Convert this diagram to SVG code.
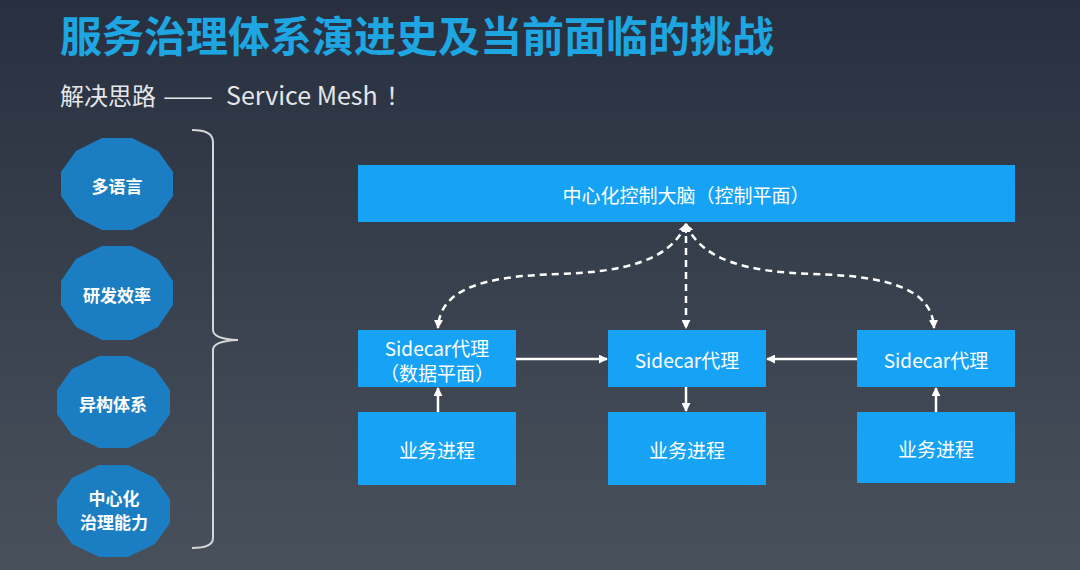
<svg xmlns="http://www.w3.org/2000/svg" width="1080" height="570" viewBox="0 0 1080 570">
  <defs>
    <linearGradient id="bg" x1="0" y1="0" x2="0" y2="1">
      <stop offset="0" stop-color="#283040"/>
      <stop offset="1" stop-color="#48515b"/>
    </linearGradient>
    <marker id="ah" viewBox="0 0 10 10" refX="9" refY="5" markerWidth="9" markerHeight="9" markerUnits="userSpaceOnUse" orient="auto-start-reverse">
      <path d="M0,0 L10,5 L0,10 Z" fill="#ffffff"/>
    </marker>
    <style>
      .cjk { font-family: "Noto Sans CJK SC", "Noto Sans", sans-serif; }
      .box { fill: #16a3f6; }
      .oct { fill: #1c7ec2; }
      .bt { fill: #ffffff; font-size: 19px; text-anchor: middle; dominant-baseline: central; }
      .ot { fill: #ffffff; font-size: 17px; font-weight: 700; text-anchor: middle; dominant-baseline: central; }
      .solid { stroke: #ffffff; stroke-width: 2.5; fill: none; }
      .dash { stroke: #ffffff; stroke-width: 2.5; fill: none; stroke-dasharray: 7 5; }
    </style>
  </defs>
  <rect width="1080" height="570" fill="url(#bg)"/>

  <text class="cjk" x="60" y="52" font-size="42" font-weight="700" fill="#1ea6e2">服务治理体系演进史及当前面临的挑战</text>
  <text class="cjk" y="105" font-size="24" fill="#e4e6e8"><tspan x="60">解决思路</tspan><tspan x="163" textLength="50" lengthAdjust="spacingAndGlyphs">——</tspan><tspan x="226" font-size="25">Service Mesh</tspan><tspan x="386">！</tspan></text>

  <g id="ellipse-multilang">
    <polygon class="oct" points="173,196 158,217 132,230 102,230 76,217 61,196 61,172 76,151 102,138 132,138 158,151 173,172"/>
    <text class="cjk ot" x="117" y="185">多语言</text>
  </g>
  <g id="ellipse-efficiency">
    <polygon class="oct" points="173,305 158,327 132,340 102,340 76,327 61,305 61,281 76,259 102,246 132,246 158,259 173,281"/>
    <text class="cjk ot" x="117" y="294">研发效率</text>
  </g>
  <g id="ellipse-hetero">
    <polygon class="oct" points="170,414 155,435 128,448 99,448 72,435 57,414 57,390 72,369 99,356 128,356 155,369 170,390"/>
    <text class="cjk ot" x="113" y="403">异构体系</text>
  </g>
  <g id="ellipse-governance">
    <polygon class="oct" points="170,523 155,544 128,557 99,557 72,544 57,523 57,499 72,478 99,465 128,465 155,478 170,499"/>
    <text class="cjk ot" x="114" y="497">中心化</text>
    <text class="cjk ot" x="114" y="521">治理能力</text>
  </g>

  <g id="brace">
    <path d="M192,130 Q213,130 213,142 L213,330 Q213,339 238,340 Q213,341 213,350 L213,538 Q213,548 192,548" fill="none" stroke="#d4d6d8" stroke-width="2"/>
  </g>

  <g id="control-plane">
    <rect class="box" x="358" y="165" width="657" height="57"/>
    <text class="cjk bt" x="686" y="194">中心化控制大脑（控制平面）</text>
  </g>
  <g id="sidecar-left">
    <rect class="box" x="358" y="330" width="158" height="57"/>
    <text class="cjk bt" x="437" y="347">Sidecar代理</text>
    <text class="cjk bt" x="437" y="372">（数据平面）</text>
  </g>
  <g id="sidecar-mid">
    <rect class="box" x="608" y="330" width="158" height="57"/>
    <text class="cjk bt" x="687" y="359">Sidecar代理</text>
  </g>
  <g id="sidecar-right">
    <rect class="box" x="857" y="330" width="158" height="57"/>
    <text class="cjk bt" x="936" y="359">Sidecar代理</text>
  </g>
  <g id="biz-left">
    <rect class="box" x="358" y="412" width="158" height="73"/>
    <text class="cjk bt" x="437" y="449" font-size="20">业务进程</text>
  </g>
  <g id="biz-mid">
    <rect class="box" x="608" y="412" width="158" height="73"/>
    <text class="cjk bt" x="687" y="449" font-size="20">业务进程</text>
  </g>
  <g id="biz-right">
    <rect class="box" x="857" y="412" width="158" height="71"/>
    <text class="cjk bt" x="936" y="448" font-size="20">业务进程</text>
  </g>

  <g id="connectors">
    <path class="dash" d="M686,224 C670,262 620,272 560,274 C480,276 440,290 438,328" marker-start="url(#ah)" marker-end="url(#ah)"/>
    <path class="dash" d="M686,224 C702,262 752,272 812,274 C892,276 932,290 934,328" marker-start="url(#ah)" marker-end="url(#ah)"/>
    <path class="dash" d="M686,224 L686,328" marker-start="url(#ah)" marker-end="url(#ah)"/>
    <path class="solid" d="M516,359 L607,359" marker-end="url(#ah)"/>
    <path class="solid" d="M857,359 L767,359" marker-end="url(#ah)"/>
    <path class="solid" d="M438,412 L438,388" marker-end="url(#ah)"/>
    <path class="solid" d="M686,387 L686,411" marker-end="url(#ah)"/>
    <path class="solid" d="M936,412 L936,388" marker-end="url(#ah)"/>
  </g>
</svg>
